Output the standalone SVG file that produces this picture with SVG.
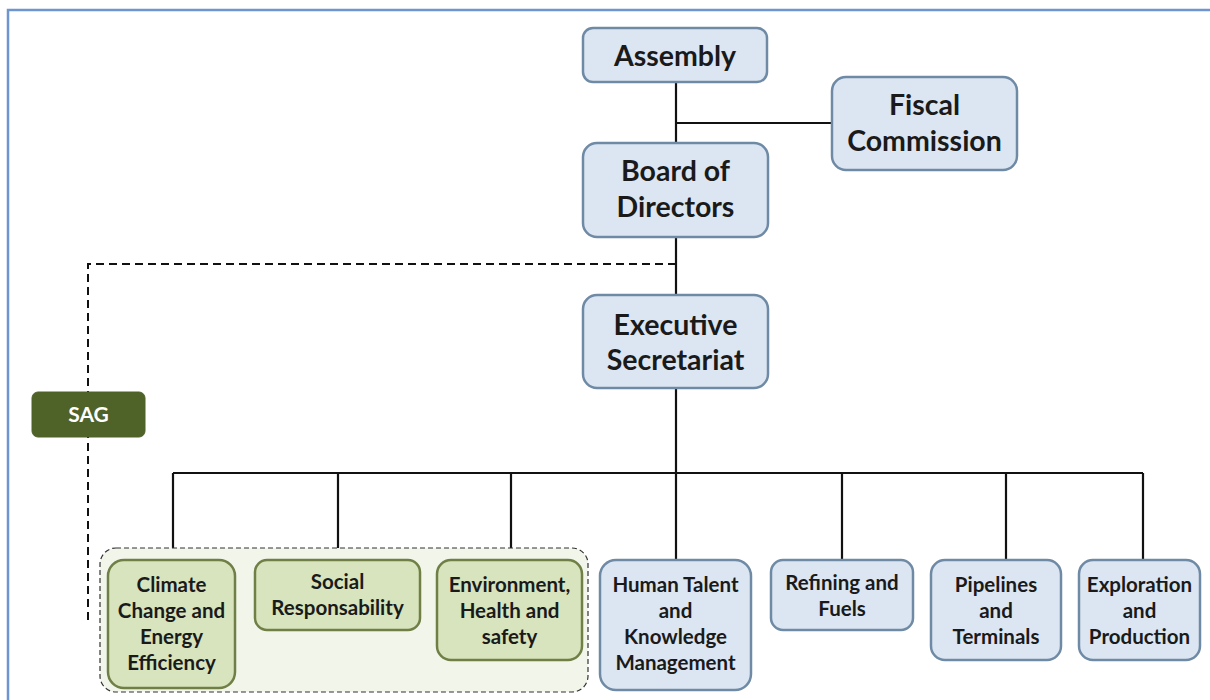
<svg xmlns="http://www.w3.org/2000/svg" width="1210" height="700" viewBox="0 0 1210 700">
  <style>
    .frame { fill: none; stroke: #6d95cf; stroke-width: 2.5; }
    .blue { fill: #dce6f2; stroke: #6f8aa5; stroke-width: 2.5; }
    .green { fill: #d7e4bd; stroke: #6f7f45; stroke-width: 2.5; }
    .grp { fill: #f1f5ea; stroke: #333; stroke-width: 1.2; stroke-dasharray: 5 3; }
    .sag { fill: #4f6228; stroke: #4f6228; }
    .link { fill: none; stroke: #111; stroke-width: 2.2; }
    .dash { fill: none; stroke: #111; stroke-width: 2; stroke-dasharray: 8 5; }
    text { font-family: "Lato", "Open Sans", "Liberation Sans", sans-serif; font-weight: bold; fill: #1a1a1a; text-anchor: middle; }
    .big { font-size: 28.5px; }
    .small { font-size: 20.5px; }
    .white { fill: #ffffff; font-size: 21px; }
  </style>

  <!-- outer frame (open to the right and bottom) -->
  <path class="frame" d="M8,700 V10 H1210"/>

  <!-- connectors -->
  <g id="connectors">
    <path class="link" d="M676,82 V143"/>
    <path class="link" d="M676,123 H832"/>
    <path class="link" d="M676,237 V295"/>
    <path class="link" d="M676,388 V473"/>
    <path class="link" d="M173,473 H1143"/>
    <path class="link" d="M173,473 V560 M338,473 V560 M511,473 V560 M676,473 V560 M842,473 V560 M1006,473 V560 M1143,473 V560"/>
    <path class="dash" d="M676,264 H88 V622"/>
  </g>

  <!-- dashed grouping around the green units -->
  <rect id="group-sag" class="grp" x="100" y="548" width="488" height="144" rx="16"/>

  <g id="sag">
    <rect class="sag" x="32" y="392" width="113" height="45" rx="6"/>
    <text class="white" x="88.5" y="422">SAG</text>
  </g>

  <g id="assembly">
    <rect class="blue" x="583" y="28" width="184" height="54" rx="10"/>
    <text class="big" x="675" y="66">Assembly</text>
  </g>

  <g id="fiscal-commission">
    <rect class="blue" x="832" y="77" width="185" height="93" rx="14"/>
    <text class="big" x="924.5" y="115">Fiscal</text>
    <text class="big" x="924.5" y="151">Commission</text>
  </g>

  <g id="board-of-directors">
    <rect class="blue" x="583" y="143" width="185" height="94" rx="14"/>
    <text class="big" x="675.5" y="181">Board of</text>
    <text class="big" x="675.5" y="217">Directors</text>
  </g>

  <g id="executive-secretariat">
    <rect class="blue" x="583" y="295" width="185" height="93" rx="14"/>
    <text class="big" x="675.5" y="335">Executive</text>
    <text class="big" x="675.5" y="370">Secretariat</text>
  </g>

  <g id="climate-change">
    <rect class="green" x="108" y="560" width="127" height="128" rx="16"/>
    <text class="small" x="171.5" y="592">Climate</text>
    <text class="small" x="171.5" y="618">Change and</text>
    <text class="small" x="171.5" y="644">Energy</text>
    <text class="small" x="171.5" y="670">Efficiency</text>
  </g>

  <g id="social-responsability">
    <rect class="green" x="255" y="560" width="165" height="70" rx="12"/>
    <text class="small" x="337.5" y="589">Social</text>
    <text class="small" x="337.5" y="615">Responsability</text>
  </g>

  <g id="environment-health-safety">
    <rect class="green" x="437" y="560" width="145" height="100" rx="14"/>
    <text class="small" x="509.5" y="592">Environment,</text>
    <text class="small" x="509.5" y="618">Health and</text>
    <text class="small" x="509.5" y="644">safety</text>
  </g>

  <g id="human-talent">
    <rect class="blue" x="600" y="560" width="151" height="130" rx="16"/>
    <text class="small" x="675.5" y="592">Human Talent</text>
    <text class="small" x="675.5" y="618">and</text>
    <text class="small" x="675.5" y="644">Knowledge</text>
    <text class="small" x="675.5" y="670">Management</text>
  </g>

  <g id="refining-fuels">
    <rect class="blue" x="771" y="560" width="142" height="70" rx="12"/>
    <text class="small" x="842" y="590">Refining and</text>
    <text class="small" x="842" y="616">Fuels</text>
  </g>

  <g id="pipelines-terminals">
    <rect class="blue" x="931" y="560" width="130" height="100" rx="14"/>
    <text class="small" x="996" y="592">Pipelines</text>
    <text class="small" x="996" y="618">and</text>
    <text class="small" x="996" y="644">Terminals</text>
  </g>

  <g id="exploration-production">
    <rect class="blue" x="1079" y="560" width="121" height="100" rx="14"/>
    <text class="small" x="1139.5" y="592">Exploration</text>
    <text class="small" x="1139.5" y="618">and</text>
    <text class="small" x="1139.5" y="644">Production</text>
  </g>
</svg>
